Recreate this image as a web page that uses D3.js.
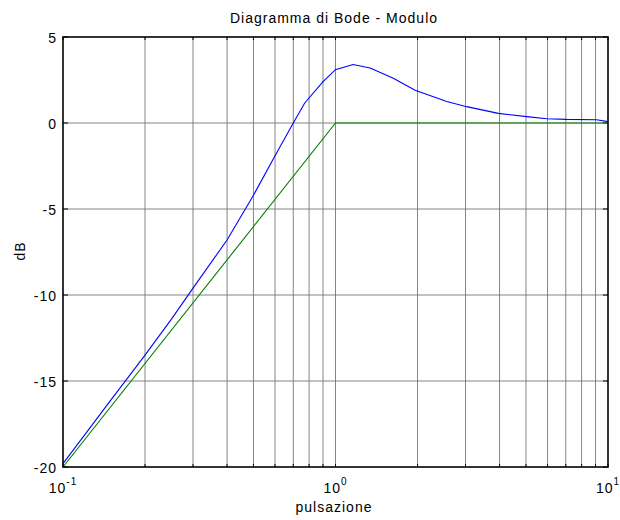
<!DOCTYPE html>
<html>
  <head>
    <meta http-equiv="content-type" content="text/html; charset=UTF-8">
    <title>Diagramma di Bode - Modulo</title>
    <script type='text/javascript' src='https://d3js.org/d3.v7.min.js'></script>
    <style type='text/css'>
      body { margin: 0; background-color: white; }
      text { font-family: "Liberation Sans", Arial, Helvetica, sans-serif; fill: black; letter-spacing: 1px; }
    </style>
  </head>
  <body>
    <script type='text/javascript'>
      // pulsazione (rad/s) e modulo in dB
      var omegaReale = [0.1, 0.15, 0.2, 0.25, 0.3, 0.4, 0.5, 0.6, 0.7, 0.77, 0.9, 1.0,
                        1.16, 1.34, 1.63, 1.96, 2.56, 3.03, 3.96, 5.03, 5.96, 7.05, 9.08, 10];
      var dbReale    = [-19.8, -16.1, -13.5, -11.4, -9.6, -6.8, -4.2, -1.9, 0.0, 1.15, 2.4, 3.1,
                        3.4, 3.2, 2.6, 1.9, 1.25, 0.95, 0.56, 0.37, 0.25, 0.21, 0.19, 0.08];
      var omegaAsint = [0.1, 1, 10];
      var dbAsint    = [-20, 0, 0];
      var yTicks = [5, 0, -5, -10, -15, -20];
      var xDecadi = [0.1, 1, 10];
      var xEsponenti = ["-1", "0", "1"];

      var w = 620, h = 520;
      // NB: "top" is taken by window.top, so the plot box uses its own names
      var boxL = 63, boxR = 608, boxT = 37, boxB = 467;

      var svg = d3.select("body").append("svg")
        .attr("width", w).attr("height", h);
      svg.append("rect").attr("width", w).attr("height", h).style("fill", "white");

      var x = d3.scaleLog().domain([0.1, 10]).range([boxL, boxR]);
      var y = d3.scaleLinear().domain([-20, 5]).range([boxB, boxT]);

      // tutte le posizioni delle griglie logaritmiche (1..10 per decade)
      var xMinor = [];
      [0.1, 1].forEach(function(d) {
        for (var k = 1; k < 10; k++) xMinor.push(d * k);
      });
      xMinor.push(10);

      // griglia
      var grid = svg.append("g").style("stroke", "#777").style("stroke-width", 0.9);
      grid.selectAll("line.gx").data(xMinor.slice(1, -1)).enter().append("line")
        .attr("x1", function(d) { return x(d); }).attr("x2", function(d) { return x(d); })
        .attr("y1", boxT).attr("y2", boxB);
      grid.selectAll("line.gy").data(yTicks.slice(1, -1)).enter().append("line")
        .attr("x1", boxL).attr("x2", boxR)
        .attr("y1", function(d) { return y(d); }).attr("y2", function(d) { return y(d); });

      // tacche interne sui quattro lati
      var ticks = svg.append("g").style("stroke", "black").style("stroke-width", 1);
      xMinor.forEach(function(d) {
        ticks.append("line").attr("x1", x(d)).attr("x2", x(d)).attr("y1", boxB).attr("y2", boxB - 3);
        ticks.append("line").attr("x1", x(d)).attr("x2", x(d)).attr("y1", boxT).attr("y2", boxT + 3);
      });
      yTicks.forEach(function(d) {
        ticks.append("line").attr("x1", boxL).attr("x2", boxL + 5).attr("y1", y(d)).attr("y2", y(d));
        ticks.append("line").attr("x1", boxR).attr("x2", boxR - 5).attr("y1", y(d)).attr("y2", y(d));
      });

      // curve
      var line = d3.line()
        .x(function(d) { return x(d[0]); })
        .y(function(d) { return y(d[1]); });

      svg.append("path")
        .datum(d3.zip(omegaAsint, dbAsint))
        .attr("d", line)
        .style("fill", "none").style("stroke", "#008000").style("stroke-width", 1.1);

      svg.append("path")
        .datum(d3.zip(omegaReale, dbReale))
        .attr("d", line)
        .style("fill", "none").style("stroke", "#0000ff").style("stroke-width", 1.1);

      // riquadro
      svg.append("rect")
        .attr("x", boxL).attr("y", boxT)
        .attr("width", boxR - boxL).attr("height", boxB - boxT)
        .style("fill", "none").style("stroke", "black").style("stroke-width", 1.6);

      // etichette asse y
      svg.selectAll("text.yt").data(yTicks).enter().append("text")
        .attr("x", boxL - 6).attr("y", function(d) { return y(d) + 6; })
        .attr("text-anchor", "end").style("font-size", "14px")
        .text(function(d) { return d; });

      // etichette asse x (10^n)
      xDecadi.forEach(function(d, i) {
        var t = svg.append("text")
          .attr("x", x(d)).attr("y", 493)
          .attr("text-anchor", "middle").style("font-size", "14px");
        t.append("tspan").text("10");
        t.append("tspan").attr("dy", -8).style("font-size", "10px").text(xEsponenti[i]);
      });

      // titoli
      svg.append("text").attr("x", 334).attr("y", 23)
        .attr("text-anchor", "middle").style("font-size", "14px")
        .text("Diagramma di Bode - Modulo");
      svg.append("text").attr("x", 334).attr("y", 512)
        .attr("text-anchor", "middle").style("font-size", "14px")
        .text("pulsazione");
      svg.append("text")
        .attr("transform", "translate(25,251) rotate(-90)")
        .attr("text-anchor", "middle").style("font-size", "14px")
        .text("dB");
    </script>
  </body>
</html>
